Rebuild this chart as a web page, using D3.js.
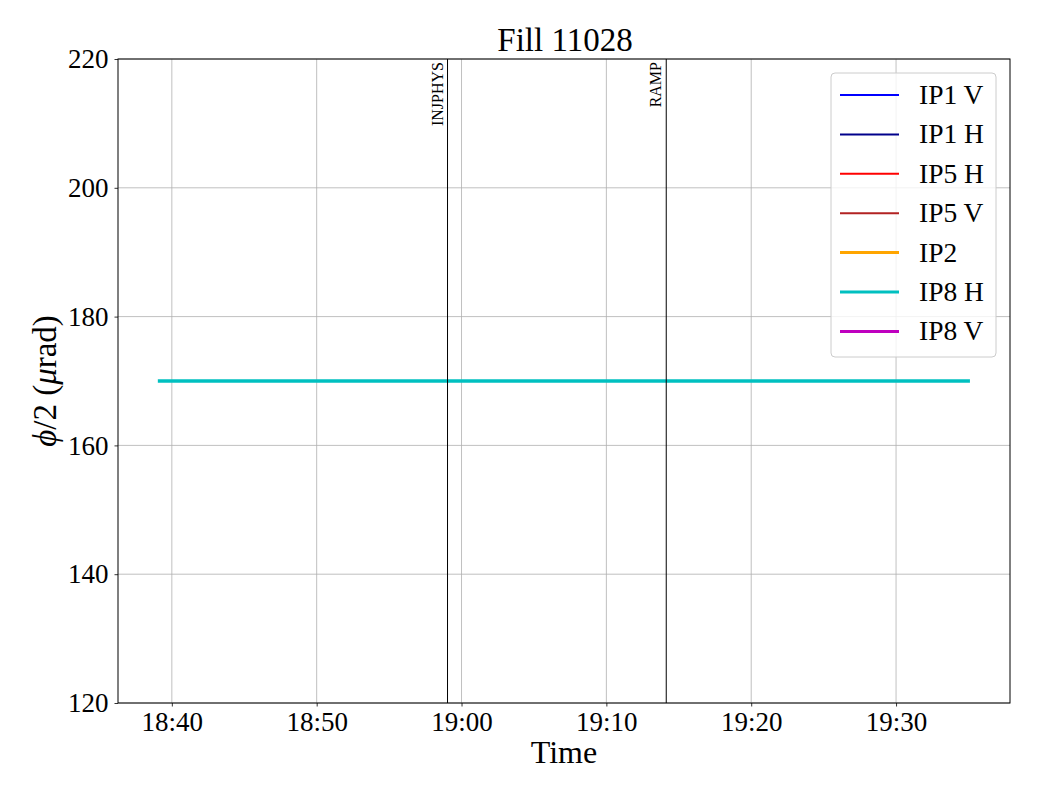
<!DOCTYPE html>
<html><head><meta charset="utf-8">
<script src="https://cdn.jsdelivr.net/npm/d3@7"></script>
<style>body{margin:0;background:#fff}svg text{font-family:"Liberation Serif","DejaVu Serif",serif}</style>
</head><body><svg id="c" width="1040" height="800"></svg>
<script>
const title = "Fill 11028";
const seriesNames = ["IP1 V","IP1 H","IP5 H","IP5 V","IP2","IP8 H","IP8 V"];
const seriesColors = ["#0000ff","#00008b","#ff0000","#b22222","#ffa500","#00c0c0","#bf00bf"];
const seriesWidths = [2,2,2,2,3,3,3];
const ip8hTimes = ["18:39:02","19:35:06"];
const ip8hValues = [170,170];
const emptyTimes = [];
const emptyValues = [];
const markerNames = ["INJPHYS","RAMP"];
const markerTimes = ["18:59:02","19:14:08"];
const xDomain = ["18:36:17","19:37:52"];
const xTickLabels = ["18:40","18:50","19:00","19:10","19:20","19:30"];
const yTicks = [120,140,160,180,200,220];

const parse = s => { const p=s.split(":").map(Number); return new Date(2024,6,1,p[0],p[1],p[2]||0); };
const seriesData = seriesNames.map((n,i)=>{
  const t = n==="IP8 H" ? ip8hTimes : emptyTimes;
  const v = n==="IP8 H" ? ip8hValues : emptyValues;
  return t.map((d,j)=>({t:parse(d),v:v[j]}));
});

const svg = d3.select("#c");
const L=118,R=1010,T=59,B=703;
const x = d3.scaleTime().domain(xDomain.map(parse)).range([L,R]);
const y = d3.scaleLinear().domain([120,220]).range([B,T]);
const xTicks = xTickLabels.map(s=>parse(s+":00"));

// grid
svg.append("g").selectAll("line").data(xTicks).join("line")
  .attr("x1",d=>x(d)).attr("x2",d=>x(d)).attr("y1",T).attr("y2",B)
  .attr("stroke","#b0b0b0").attr("stroke-width",0.8);
svg.append("g").selectAll("line").data(yTicks).join("line")
  .attr("x1",L).attr("x2",R).attr("y1",d=>y(d)).attr("y2",d=>y(d))
  .attr("stroke","#b0b0b0").attr("stroke-width",0.8);

// series
const line = d3.line().x(d=>x(d.t)).y(d=>y(d.v));
seriesData.forEach((d,i)=>{
  if(!d.length) return;
  svg.append("path").attr("d",line(d)).attr("fill","none")
    .attr("stroke",seriesColors[i]).attr("stroke-width",3.5);
});

// markers
markerTimes.forEach((m,i)=>{
  const xx = x(parse(m));
  svg.append("line").attr("x1",xx).attr("x2",xx).attr("y1",T).attr("y2",B)
    .attr("stroke","#000").attr("stroke-width",1);
  svg.append("text").attr("transform",`translate(${xx-5},${T+3}) rotate(-90)`)
    .attr("text-anchor","end").attr("font-size",16).text(markerNames[i]);
});

// axes
const xAxis = d3.axisBottom(x).tickValues(xTicks).tickFormat(d3.timeFormat("%H:%M")).tickSize(3.5).tickPadding(5);
const gx = svg.append("g").attr("transform",`translate(0,${B})`).call(xAxis);
const yAxis = d3.axisLeft(y).tickValues(yTicks).tickSize(3.5).tickPadding(6);
const gy = svg.append("g").attr("transform",`translate(${L},0)`).call(yAxis);
[gx,gy].forEach(g=>{
  g.select(".domain").remove();
  g.selectAll("text").attr("font-size",27).attr("fill","#000").style("font-family","'Liberation Serif',serif");
  g.selectAll("line").attr("stroke","#000").attr("stroke-width",0.8);
});
gx.selectAll("text").attr("dy","0.72em");
svg.append("rect").attr("x",L).attr("y",T).attr("width",R-L).attr("height",B-T)
  .attr("fill","none").attr("stroke","#000").attr("stroke-width",1);

// labels
svg.append("text").attr("x",(L+R)/2+1).attr("y",51).attr("text-anchor","middle").attr("font-size",33).text(title);
svg.append("text").attr("x",(L+R)/2).attr("y",763).attr("text-anchor","middle").attr("font-size",32).text("Time");
const yl = svg.append("text").attr("transform",`translate(56,${(T+B)/2}) rotate(-90)`).attr("text-anchor","middle").attr("font-size",33);
yl.append("tspan").attr("font-style","italic").text("\u03D5");
yl.append("tspan").text("/2 (");
yl.append("tspan").attr("font-style","italic").text("\u03BC");
yl.append("tspan").text("rad)");

// legend
const lg = svg.append("g");
lg.append("rect").attr("x",831).attr("y",73).attr("width",165).attr("height",284).attr("rx",4)
  .attr("fill","#fff").attr("fill-opacity",0.8).attr("stroke","#cccccc").attr("stroke-width",1);
seriesNames.forEach((n,i)=>{
  const yy = 95 + i*39.4;
  lg.append("line").attr("x1",840).attr("x2",899).attr("y1",yy).attr("y2",yy)
    .attr("stroke",seriesColors[i]).attr("stroke-width",seriesWidths[i]);
  lg.append("text").attr("x",919).attr("y",yy+9).attr("font-size",27.5).text(n);
});
</script></body></html>
